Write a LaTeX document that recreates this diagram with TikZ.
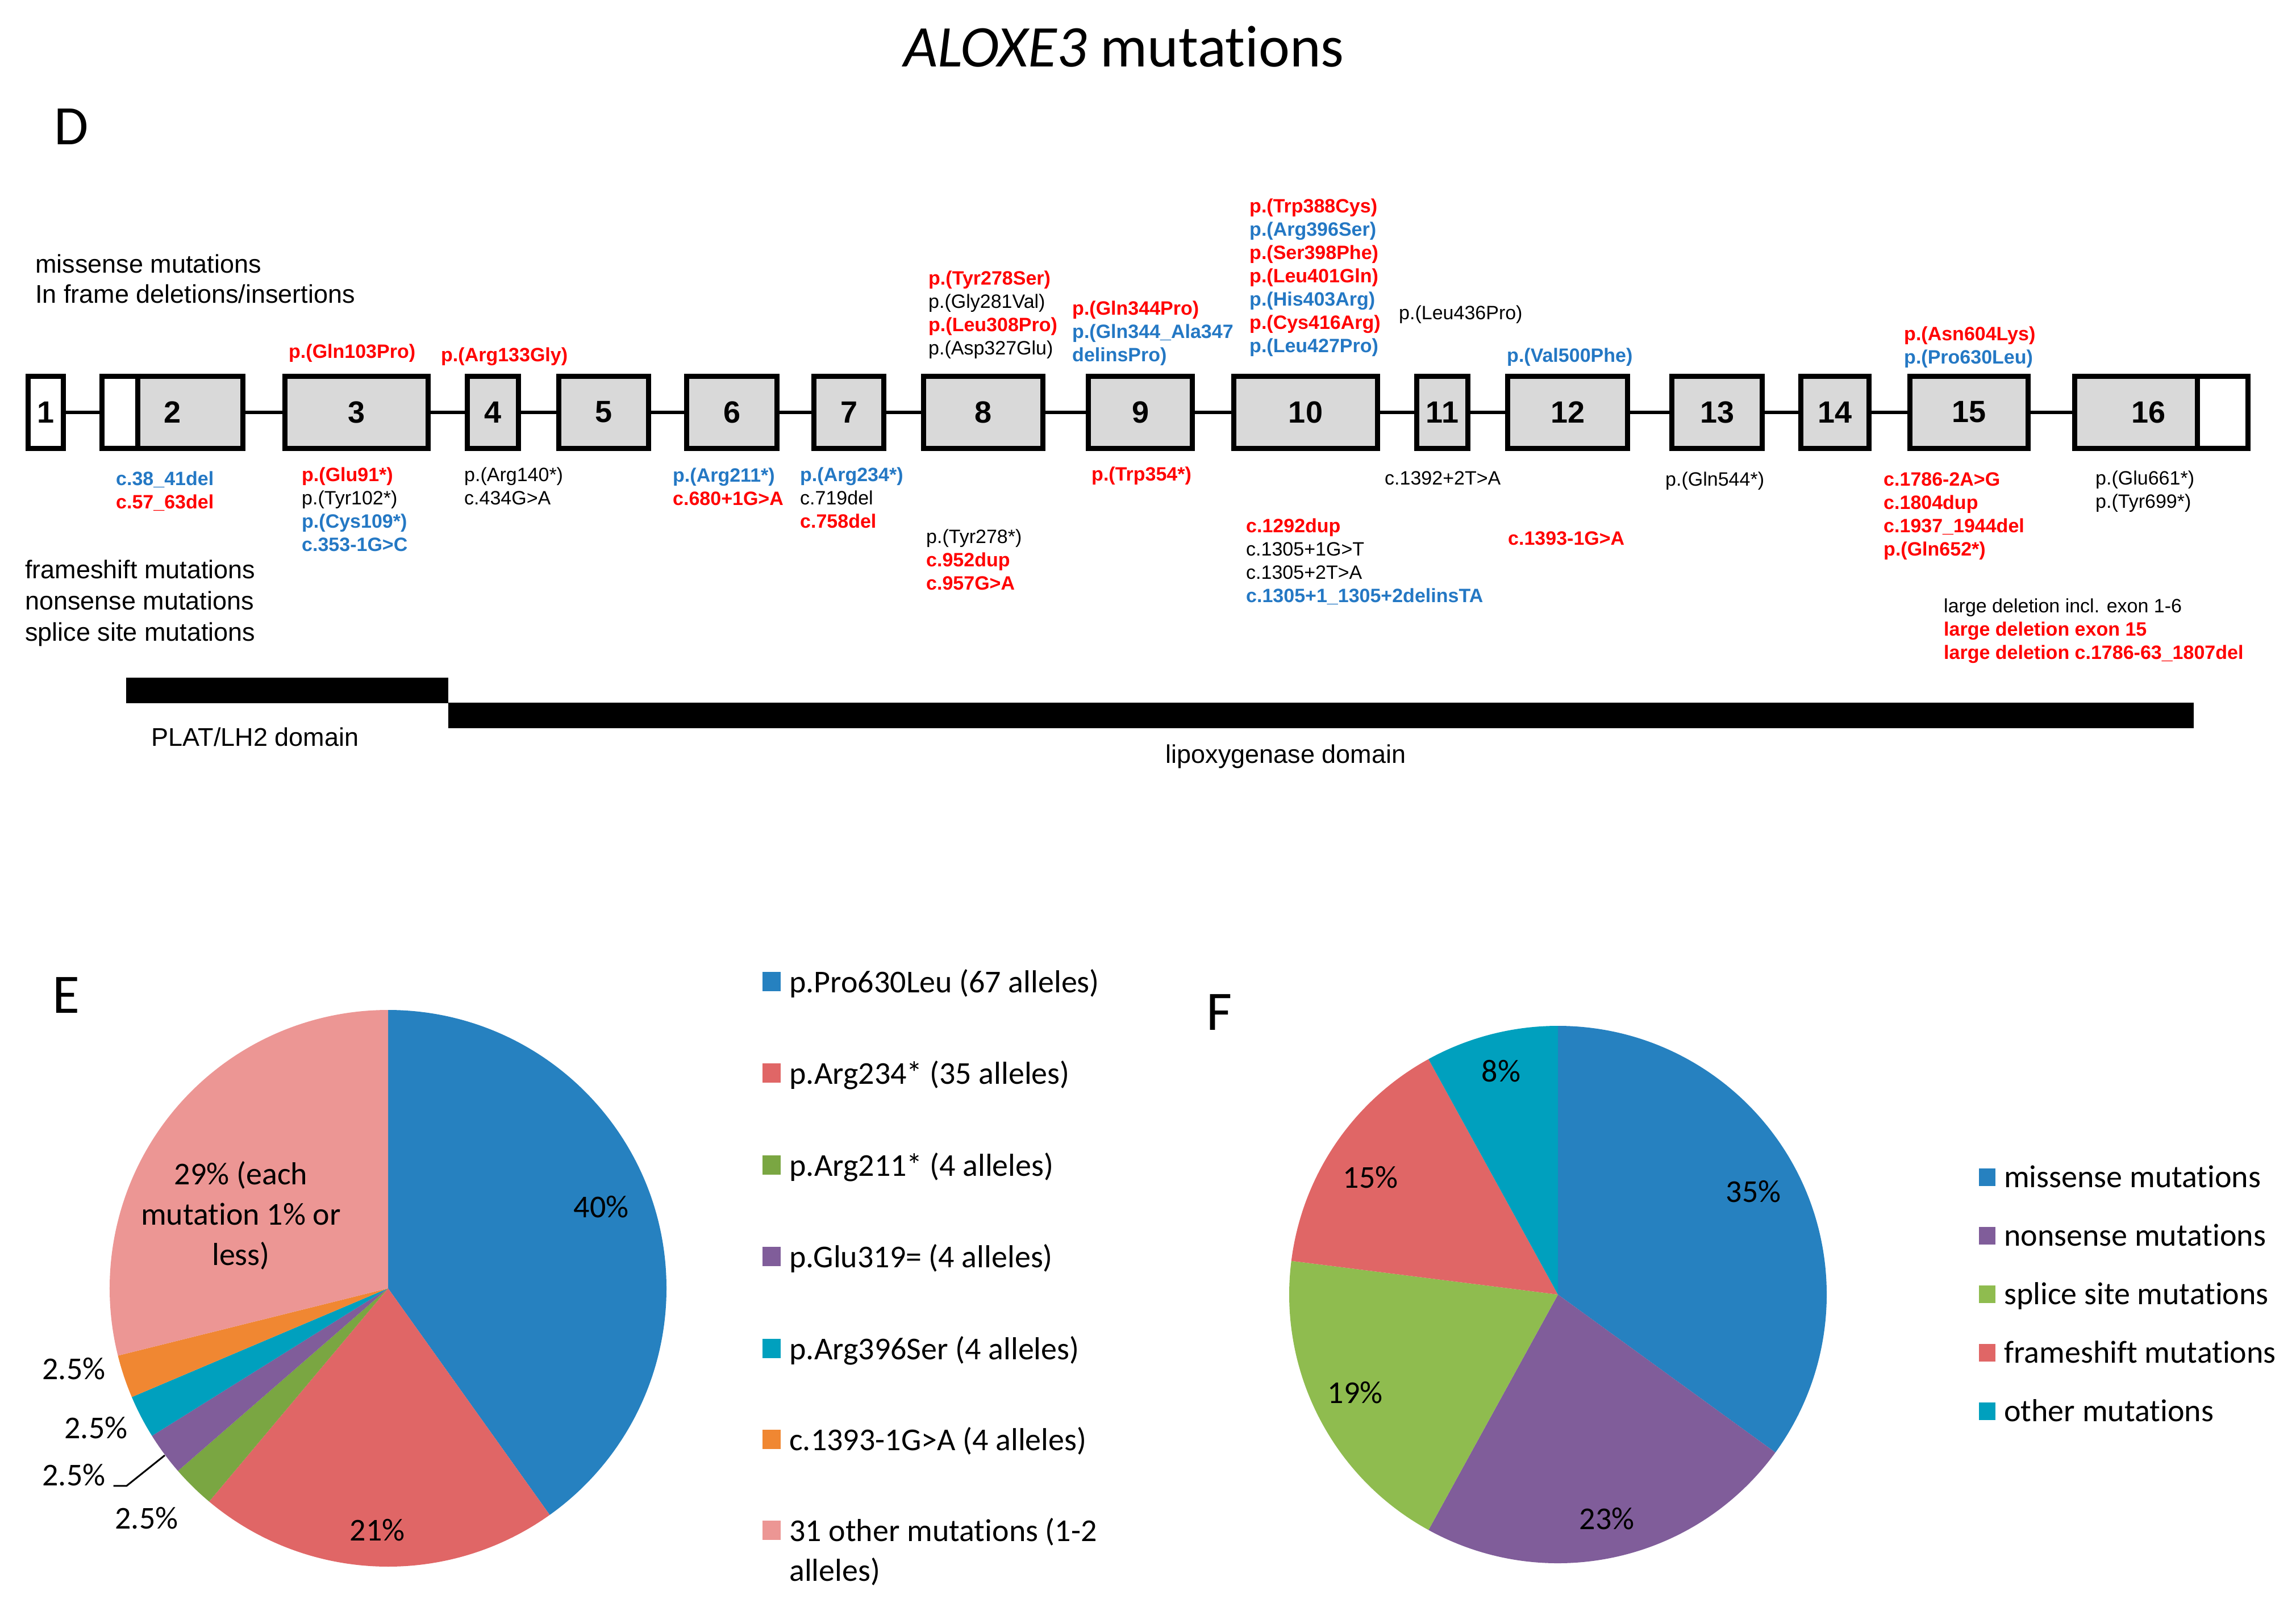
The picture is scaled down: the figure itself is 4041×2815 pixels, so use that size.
\documentclass[tikz,border=0pt]{standalone}
\usepackage{fontspec}
\setmainfont{Liberation Sans}
\newfontfamily\calfont[Ligatures=NoCommon]{Carlito}
\definecolor{mred}{RGB}{255,0,0}
\definecolor{mblue}{RGB}{36,120,196}
\definecolor{exgray}{RGB}{217,217,217}
\definecolor{pblue}{RGB}{38,129,192}
\definecolor{pred}{RGB}{224,102,102}
\definecolor{pgreen}{RGB}{122,166,66}
\definecolor{pgreenF}{RGB}{143,188,79}
\definecolor{ppurple}{RGB}{128,93,154}
\definecolor{pteal}{RGB}{0,160,190}
\definecolor{porange}{RGB}{240,135,50}
\definecolor{ppink}{RGB}{236,150,148}
\newcommand\Rd{\color{mred}\bfseries}
\newcommand\Bl{\color{mblue}\bfseries}
\newcommand\Bk{\color{black}\mdseries}
\newcommand\mstack[4]{%
  \foreach \mtxt [count=\i from 0] in {#4}{%
    \node[mut] (#1\i) at (#2,{#3+41*\i}) {\mtxt};}}
\newcommand\slice[5]{\fill[#1] (#2) -- ++(#4:#3) arc[start angle=#4, end angle=#5, radius=#3] -- cycle;}
\tikzset{
  exon/.style={draw, line width=9, fill=exgray, minimum height=127, inner sep=0,
    font=\fontsize{54}{54}\selectfont\bfseries},
  intron/.style={line width=6},
  mut/.style={inner sep=0, anchor=base west, font=\fontsize{34}{41}\selectfont},
  legd/.style={inner sep=0, anchor=base west, font=\fontsize{45}{53}\selectfont},
  domlab/.style={inner sep=0, font=\fontsize{45}{53}\selectfont},
  dom/.style={fill=black, inner sep=0, anchor=north west},
  cal/.style={inner sep=0, font=\calfont\fontsize{56}{71}\selectfont},
  calleg/.style={inner sep=0, anchor=base west, font=\calfont\fontsize{56}{70}\selectfont},
  panel/.style={inner sep=0, font=\calfont\fontsize{98}{98}\selectfont},
  sqE/.style={inner sep=0, minimum width=32, minimum height=34},
  sqF/.style={inner sep=0, minimum width=29, minimum height=31},
}
\begin{document}
\begin{tikzpicture}[x=1pt, y=-1pt]
\fill[white] (0,0) rectangle (4041,2815);
\useasboundingbox (0,0) rectangle (4041,2815);

% title and panel letters
\node[inner sep=0, anchor=base, font=\calfont\fontsize{104}{104}\selectfont] (title) at (1978,118) {{\itshape ALOXE3} mutations};
\node[panel] (pD) at (126,223) {D};
\node[panel] (pE) at (116,1752) {E};
\node[panel] (pF) at (2146,1782) {F};

% legend texts of D
\node[legd] (lg1) at (62,480) {missense mutations};
\node[legd] (lg2) at (62,533) {In frame deletions/insertions};
\node[legd] (lg3) at (44,1018) {frameshift mutations};
\node[legd] (lg4) at (44,1073) {nonsense mutations};
\node[legd] (lg5) at (44,1128) {splice site mutations};

% exons
\node[exon, minimum width=62, fill=white] (e1) at (80.5,725.5) {1};
\node[exon, minimum width=248] (e2) at (303.5,725.5) {};
\node[exon, minimum width=252] (e3) at (627.5,725.5) {3};
\node[exon, minimum width=90] (e4) at (867.5,725.5) {4};
\node[exon, minimum width=158] (e5) at (1062.5,725.5) {5};
\node[exon, minimum width=159] (e6) at (1288,725.5) {6};
\node[exon, minimum width=123] (e7) at (1494,725.5) {7};
\node[exon, minimum width=210] (e8) at (1730.5,725.5) {8};
\node[exon, minimum width=183] (e9) at (2007,725.5) {9};
\node[exon, minimum width=253] (e10) at (2298,725.5) {10};
\node[exon, minimum width=90] (e11) at (2538.5,725.5) {11};
\node[exon, minimum width=211] (e12) at (2759,725.5) {12};
\node[exon, minimum width=159] (e13) at (3022,725.5) {13};
\node[exon, minimum width=120] (e14) at (3229.5,725.5) {14};
\node[exon, minimum width=208] (e15) at (3465.5,725.5) {15};
\node[exon, minimum width=305] (e16) at (3804,725.5) {};
% untranslated parts
\fill[white] (184,667) rectangle (242,784);
\draw[line width=9] (242,0 |- e2.north) -- (242,0 |- e2.south);
\fill[white] (3867,667) rectangle (3952,784);
\draw[line width=9] (3867,0 |- e16.north) -- (3867,0 |- e16.south);
\node[inner sep=0, font=\fontsize{54}{54}\selectfont\bfseries] (n2) at (304,725.5) {2};
\node[inner sep=0, font=\fontsize{54}{54}\selectfont\bfseries] (n16) at (3781,725.5) {16};
% introns
\foreach \a/\b in {1/2,2/3,3/4,4/5,5/6,6/7,7/8,8/9,9/10,10/11,11/12,12/13,13/14,14/15,15/16}
  \draw[intron] (e\a) -- (e\b);

% mutations above exons
\mstack{ua}{508}{630}{{\Rd p.(Gln103Pro)}}
\mstack{ub}{776}{636}{{\Rd p.(Arg133Gly)}}
\mstack{uc}{1634}{501}{{\Rd p.(Tyr278Ser)},{\Bk p.(Gly281Val)},{\Rd p.(Leu308Pro)},{\Bk p.(Asp327Glu)}}
\mstack{ud}{1887}{554}{{\Rd p.(Gln344Pro)},{\Bl p.(Gln344\_Ala347},{\Bl delinsPro)}}
\mstack{ue}{2199}{374}{{\Rd p.(Trp388Cys)},{\Bl p.(Arg396Ser)},{\Rd p.(Ser398Phe)},{\Rd p.(Leu401Gln)},{\Bl p.(His403Arg)},{\Rd p.(Cys416Arg)},{\Bl p.(Leu427Pro)}}
\mstack{uf}{2462}{562}{{\Bk p.(Leu436Pro)}}
\mstack{ug}{2652}{637}{{\Bl p.(Val500Phe)}}
\mstack{uh}{3351}{599}{{\Rd p.(Asn604Lys)},{\Bl p.(Pro630Leu)}}

% mutations below exons
\mstack{da}{204}{854}{{\Bl c.38\_41del},{\Rd c.57\_63del}}
\mstack{db}{531}{847}{{\Rd p.(Glu91*)},{\Bk p.(Tyr102*)},{\Bl p.(Cys109*)},{\Bl c.353-1G>C}}
\mstack{dc}{817}{847}{{\Bk p.(Arg140*)},{\Bk c.434G>A}}
\mstack{dd}{1184}{848}{{\Bl p.(Arg211*)},{\Rd c.680+1G>A}}
\mstack{de}{1408}{847}{{\Bl p.(Arg234*)},{\Bk c.719del},{\Rd c.758del}}
\mstack{df}{1630}{956}{{\Bk p.(Tyr278*)},{\Rd c.952dup},{\Rd c.957G>A}}
\mstack{dg}{1921}{846}{{\Rd p.(Trp354*)}}
\mstack{dh}{2193}{937}{{\Rd c.1292dup},{\Bk c.1305+1G>T},{\Bk c.1305+2T>A},{\Bl c.1305+1\_1305+2delinsTA}}
\mstack{di}{2437}{853}{{\Bk c.1392+2T>A}}
\mstack{dj}{2654}{959}{{\Rd c.1393-1G>A}}
\mstack{dk}{2931}{855}{{\Bk p.(Gln544*)}}
\mstack{dl}{3315}{855}{{\Rd c.1786-2A>G},{\Rd c.1804dup},{\Rd c.1937\_1944del},{\Rd p.(Gln652*)}}
\mstack{dm}{3688}{853}{{\Bk p.(Glu661*)},{\Bk p.(Tyr699*)}}
\mstack{dn}{3421}{1078}{{\Bk large deletion incl. exon 1-6},{\Rd large deletion exon 15},{\Rd large deletion c.1786-63\_1807del}}

% domains
\node[dom, minimum width=567, minimum height=45] (plat) at (222,1193) {};
\node[dom, minimum width=3072, minimum height=45] (lipo) at (789,1237) {};
\node[domlab] (platl) at (449,1297) {PLAT/LH2 domain};
\node[domlab] (lipol) at (2263,1332) {lipoxygenase domain};

% pie E
\coordinate (cE) at (683,2268);
\slice{pblue}{cE}{490}{-90}{54.5}
\slice{pred}{cE}{490}{54.5}{130}
\slice{pgreen}{cE}{490}{130}{139}
\slice{ppurple}{cE}{490}{139}{148}
\slice{pteal}{cE}{490}{148}{157}
\slice{porange}{cE}{490}{157}{166}
\slice{ppink}{cE}{490}{166}{270}
\node[cal] (e40) at (1058,2125) {40\%};
\node[cal] (e21) at (664,2694) {21\%};
\node[cal, align=center] (e29) at (424,2140) {29\% (each\\mutation 1\% or\\less)};
\node[cal] (e25a) at (130,2410) {2.5\%};
\node[cal] (e25b) at (169,2514) {2.5\%};
\node[cal] (e25c) at (130,2597) {2.5\%};
\node[cal] (e25d) at (258,2673) {2.5\%};
\coordinate (ldr) at (290,2562);
\draw[line width=3] ([xshift=14]e25c.base east) -- ++(23,0) -- (ldr);

% legend E
\node[sqE, fill=pblue] (sE1) at (1358,1728) {};
\node[sqE, fill=pred] (sE2) at (1358,1889) {};
\node[sqE, fill=pgreen] (sE3) at (1358,2051) {};
\node[sqE, fill=ppurple] (sE4) at (1358,2212) {};
\node[sqE, fill=pteal] (sE5) at (1358,2374) {};
\node[sqE, fill=porange] (sE6) at (1358,2534) {};
\node[sqE, fill=ppink] (sE7) at (1358,2694) {};
\node[calleg] (tE1) at (1389,1747) {p.Pro630Leu (67 alleles)};
\node[calleg] (tE2) at (1389,1908) {p.Arg234* (35 alleles)};
\node[calleg] (tE3) at (1389,2070) {p.Arg211* (4 alleles)};
\node[calleg] (tE4) at (1389,2231) {p.Glu319= (4 alleles)};
\node[calleg] (tE5) at (1389,2393) {p.Arg396Ser (4 alleles)};
\node[calleg] (tE6) at (1389,2553) {c.1393-1G>A (4 alleles)};
\node[calleg] (tE7) at (1389,2713) {31 other mutations (1-2};
\node[calleg] (tE8) at (1389,2783) {alleles)};

% pie F
\coordinate (cF) at (2742,2279);
\slice{pblue}{cF}{473}{-90}{36}
\slice{ppurple}{cF}{473}{36}{118.8}
\slice{pgreenF}{cF}{473}{118.8}{187.2}
\slice{pred}{cF}{473}{187.2}{241.2}
\slice{pteal}{cF}{473}{241.2}{270}
\node[cal] (f35) at (3086,2098) {35\%};
\node[cal] (f23) at (2828,2674) {23\%};
\node[cal] (f19) at (2385,2452) {19\%};
\node[cal] (f15) at (2412,2073) {15\%};
\node[cal] (f8) at (2642,1886) {8\%};

% legend F
\node[sqF, fill=pblue] (sF1) at (3497,2072) {};
\node[sqF, fill=ppurple] (sF2) at (3497,2175) {};
\node[sqF, fill=pgreenF] (sF3) at (3497,2278) {};
\node[sqF, fill=pred] (sF4) at (3497,2381) {};
\node[sqF, fill=pteal] (sF5) at (3497,2484) {};
\node[calleg] (tF1) at (3527,2090) {missense mutations};
\node[calleg] (tF2) at (3527,2193) {nonsense mutations};
\node[calleg] (tF3) at (3527,2296) {splice site mutations};
\node[calleg] (tF4) at (3527,2399) {frameshift mutations};
\node[calleg] (tF5) at (3527,2502) {other mutations};
\end{tikzpicture}
\end{document}
